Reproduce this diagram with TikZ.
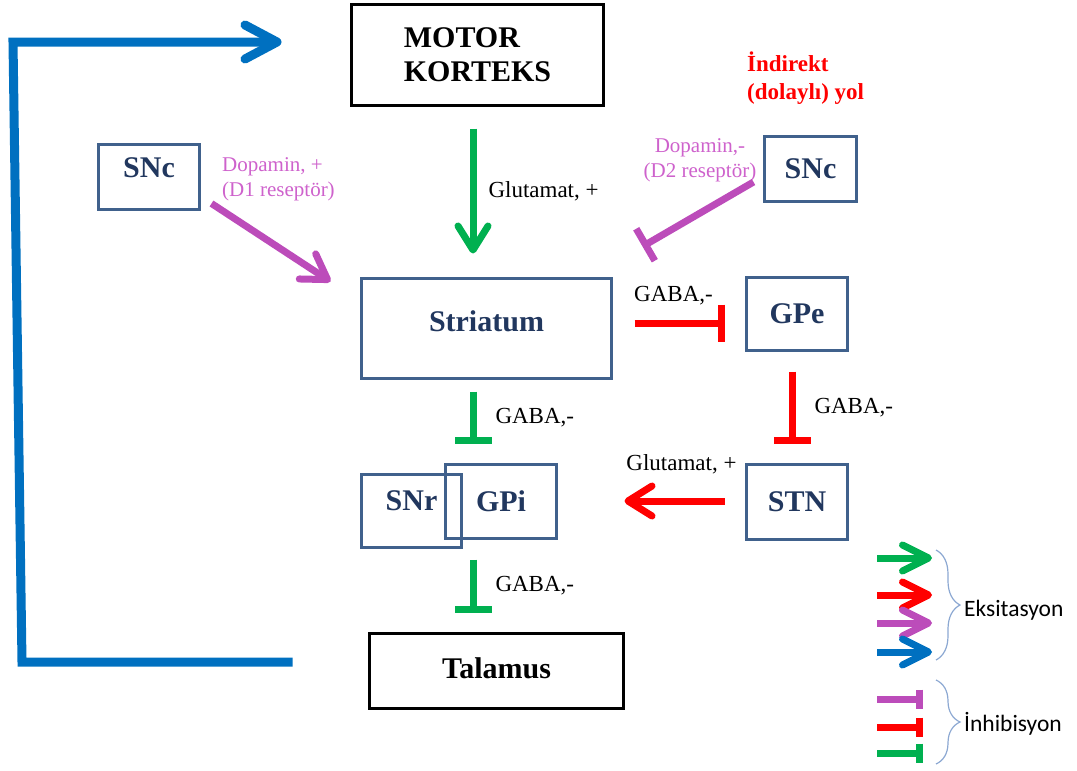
\documentclass[tikz,border=0pt]{standalone}
\usepackage{fontspec}
\setmainfont{Liberation Serif}
\newfontfamily\keyfont{Carlito}
\usepackage{tikz}
\usetikzlibrary{arrows.meta,decorations.pathreplacing}
\usepackage{xcolor}
\definecolor{glugreen}{RGB}{0,176,80}
\definecolor{gabared}{RGB}{255,0,0}
\definecolor{dopapurple}{RGB}{188,76,186}
\definecolor{loopblue}{RGB}{0,112,192}
\definecolor{boxblue}{RGB}{64,97,140}
\definecolor{boxtext}{RGB}{33,55,94}
\definecolor{dopatext}{RGB}{206,98,204}
\definecolor{bracegray}{RGB}{140,168,210}

\tikzset{
  excite/.style={-{Straight Barb[length=24pt,width=30pt,round]}},
  inhibit/.style={-{Bar[width=37pt]}},
  nucleus/.style={draw=boxblue,line width=3pt,text=boxtext},
  cortex/.style={draw=black,line width=3pt,text=black},
  keybrace/.style={bracegray,line width=1.2pt,decorate,decoration={brace,amplitude=24pt}}
}

\begin{document}
\begin{tikzpicture}[x=1pt,y=1pt]
  \useasboundingbox (0,0) rectangle (1077,-771);

    \begin{scope}[every node/.style={font=\bfseries\fontsize{30}{34}\selectfont}]
      \node[cortex,minimum width=252pt,minimum height=101pt,align=left] (mk) at (477.5,-55) {MOTOR\\KORTEKS};
      \node[nucleus,minimum width=101pt,minimum height=65pt,text height=20pt,text depth=20pt] (snc1) at (149,-177) {SNc};
      \node[nucleus,minimum width=92pt,minimum height=65pt] (snc2) at (810.5,-169) {SNc};
      \node[nucleus,minimum width=250pt,minimum height=100pt,text height=20pt,text depth=14pt] (stri) at (486.5,-328.5) {Striatum};
      \node[nucleus,minimum width=101pt,minimum height=73pt] (gpe) at (797,-314) {GPe};
      \node[nucleus,minimum width=100pt,minimum height=73pt,text height=20pt,text depth=22pt] (snr) at (411.5,-511) {SNr};
      \node[nucleus,minimum width=111pt,minimum height=74pt] (gpi) at (501,-501.5) {GPi};
      \node[nucleus,minimum width=101pt,minimum height=75pt] (stn) at (797,-502) {STN};
      \node[cortex,minimum width=254pt,minimum height=75pt,text height=20pt,text depth=6pt] (tal) at (496.5,-671) {Talamus};
    \end{scope}

    \node[font=\bfseries\fontsize{23}{28}\selectfont,text=gabared,align=left,anchor=west,inner sep=0pt] (indirekt) at (747,-78) {İndirekt\\(dolaylı) yol};
    \node[font=\fontsize{21}{25}\selectfont,text=dopatext,align=left,anchor=west,inner sep=0pt] (d1lbl) at (222,-179) {Dopamin, +\\(D1 reseptör)};
    \node[font=\fontsize{21}{25}\selectfont,text=dopatext,align=center,inner sep=0pt] (d2lbl) at (700,-160) {Dopamin,-\\(D2 reseptör)};

    \begin{scope}[every node/.style={font=\fontsize{23}{27}\selectfont,text=black,inner sep=2pt},
        every edge/.style={draw,line width=7pt}]
      \path [excite,glugreen] ([shift={(-4.5,-21.5)}]mk.south) edge node[right=10pt] (lglu1) {Glutamat, +} ([shift={(-13.5,23.5)}]stri.north);
      \path [excite,dopapurple] ([shift={(10.5,7.5)}]snc1.south east) edge ([shift={(-29.5,-4.5)}]stri.north west);
      \path [inhibit,dopapurple] ([shift={(-9.5,-13)}]snc2.west) edge ([shift={(29.5,30.5)}]stri.north east);
      \path [inhibit,gabared] ([shift={(21.5,5.5)}]stri.east) edge node[above=12pt,xshift=-6pt] (lgaba1) {GABA,-} ([shift={(-20.5,-9)}]gpe.west);
      \path [inhibit,gabared] ([shift={(-5,-19.5)}]gpe.south) edge node[right=17pt] (lgaba2) {GABA,-} ([shift={(-5,19.5)}]stn.north);
      \path [excite,gabared] ([shift={(-20.5,1)}]stn.west) edge node[above=21pt,xshift=7pt] (lglu2) {Glutamat, +} ([shift={(66.5,0.5)}]gpi.east);
      \path [inhibit,glugreen] ([shift={(-13.5,-11.5)}]stri.south) edge node[right=17pt] (lgaba3) {GABA,-} ([shift={(-28,19.5)}]gpi.north);
      \path [inhibit,glugreen] ([shift={(-28,-19.5)}]gpi.south) edge node[right=17pt] (lgaba4) {GABA,-} ([shift={(-23.5,19.5)}]tal.north);
    \end{scope}

    % feedback loop Talamus -> motor korteks
    \coordinate (fbbot) at (22,-662);
    \coordinate (fbtop) at (13,-42);
    \draw[loopblue,line width=9pt,-{Straight Barb[length=32pt,width=34pt,round]}]
      ([shift={(-75.5,9)}]tal.west) -- (fbbot) -- (fbtop) -- ([shift={(-68.5,13)}]mk.west);

    % legend
    \foreach \y/\c in {558/glugreen,595/gabared,623/dopapurple,652/loopblue}
      \draw[\c,line width=7pt,-{Straight Barb[length=26pt,width=26pt,round]}] (877,-\y) -- (932,-\y);
    \foreach \y/\c in {699/dopapurple,727/gabared,753/glugreen}
      \draw[\c,line width=7pt,-{Bar[width=19pt]}] (877,-\y) -- (923,-\y);
    \draw[keybrace] (936,-550) -- (936,-660);
    \draw[keybrace] (936,-680) -- (936,-764);
    \node[font=\keyfont\fontsize{23.5}{27}\selectfont,anchor=west,inner sep=0pt] (eksit) at (964,-610) {Eksitasyon};
    \node[font=\keyfont\fontsize{23.5}{27}\selectfont,anchor=west,inner sep=0pt] (inhib) at (964,-724) {İnhibisyon};
  \end{tikzpicture}
\end{document}
